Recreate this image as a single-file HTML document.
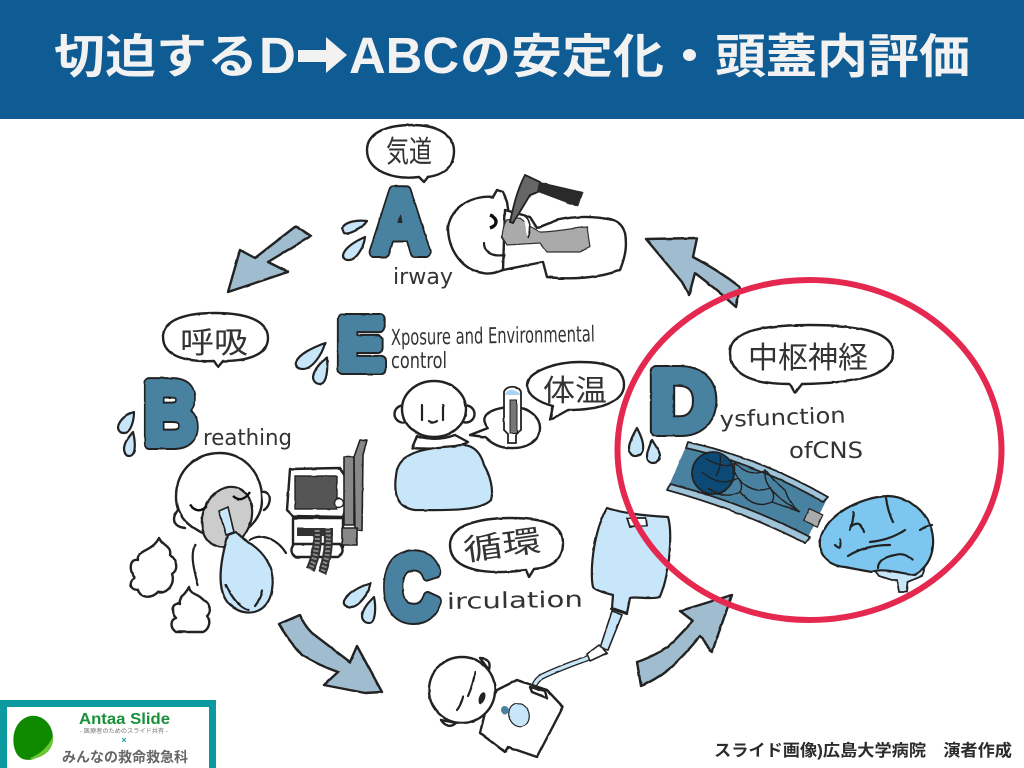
<!DOCTYPE html>
<html lang="ja"><head><meta charset="utf-8"><title>切迫するD→ABCの安定化・頭蓋内評価</title>
<style>
html,body{margin:0;padding:0;background:#fff;width:1024px;height:768px;overflow:hidden}
svg{display:block}
text{font-family:"Liberation Sans","Noto Sans CJK JP",sans-serif}
.t{font-weight:700;fill:#f2f2f2;font-size:51px}
.tj{font-weight:700;fill:#f2f2f2;font-size:47px}
.L1{font-weight:700;fill:#222;stroke:#222;stroke-width:12;stroke-linejoin:round}
.L2{font-weight:700;fill:#4a82a0;stroke:#4a82a0;stroke-width:8;stroke-linejoin:round}
.h{font-family:"DejaVu Sans","Liberation Sans",sans-serif;font-weight:400;fill:#333;font-size:22px}
.j{font-family:"Noto Sans CJK JP",sans-serif;font-weight:400;fill:#333;font-size:30px}
.o{fill:#fff;stroke:#222;stroke-width:2.4;stroke-linejoin:round;stroke-linecap:round}
.n{fill:none;stroke:#222;stroke-width:2.2;stroke-linejoin:round;stroke-linecap:round}
.b{fill:#c8e6fa;stroke:#222;stroke-width:2.2;stroke-linejoin:round;stroke-linecap:round}
.a{fill:#a0bdd0;stroke:#222;stroke-width:2.4;stroke-linejoin:round}
.g{fill:#888;stroke:#222;stroke-width:1.6;stroke-linejoin:round}
</style></head><body>
<svg width="1024" height="768" viewBox="0 0 1024 768" xmlns="http://www.w3.org/2000/svg">
<defs><filter id="w" x="-2%" y="-2%" width="104%" height="104%"><feTurbulence type="fractalNoise" baseFrequency="0.09" numOctaves="2" seed="4"/><feDisplacementMap in="SourceGraphic" scale="1.3" xChannelSelector="R" yChannelSelector="G"/><feGaussianBlur stdDeviation="0.3"/></filter></defs>
<rect width="1024" height="768" fill="#fff"/>
<rect width="1024" height="119" fill="#0f5b93"/>
<text class="tj" x="54" y="73" textLength="204" lengthAdjust="spacingAndGlyphs">切迫する</text>
<text class="t" x="259" y="73">D</text>
<path d="M298 50H326V37L347 55L326 73V62H298Z" fill="#f2f2f2"/>
<text class="t" x="349" y="73" textLength="110" lengthAdjust="spacingAndGlyphs">ABC</text>
<text class="tj" x="460" y="73" textLength="510" lengthAdjust="spacingAndGlyphs">の安定化・頭蓋内評価</text>

<g filter="url(#w)">
<!-- arrows -->
<path class="a" d="M296 226L311 236L268 262L288 272Q258 282 228 292L240 250L255 258Z"/>
<path class="a" d="M646 239L697 238L693 257Q718 270 740 287L736 307Q715 288 695 273L689 295L682 282Z"/>
<path class="a" d="M279 624L300 615Q304 625 312 633L350 662L357 646L382 692L365 693L324 685L338 672Q318 665 302 655Q288 640 279 624Z"/>
<path class="a" d="M637 662L641 686Q655 680 668 670Q685 655 700 636L712 652L732 595L680 611L693 621Q680 635 668 647Q650 658 637 662Z"/>

<!-- bubbles -->
<path class="o" d="M424 182L419 177C395 180 367 172 367 150C367 132 388 125 412 125C438 125 454 135 454 151C454 168 442 175 428 177Z"/>
<path class="o" d="M218 367L214 361C190 362 163 358 163 337C163 320 185 313 215 313C245 313 268 320 268 338C268 356 245 361 223 361Z"/>
<path class="o" d="M550 420L553 406C537 402 527 394 527 385C527 372 555 362 580 362C605 362 624 367 624 385C624 402 600 410 568 410Z"/>
<path class="o" d="M470 435L488 428C475 412 500 407 512 407C530 407 540 418 540 428C540 442 525 449 510 448C498 448 490 442 485 437Z"/>
<path class="o" d="M795 393L790 384C760 384 730 378 730 352C730 332 760 325 810 325C860 325 893 332 893 352C893 375 860 383 802 384Z"/>
<path class="o" d="M529 577L526 570C490 575 450 572 450 545C450 525 480 518 510 518C545 518 563 525 563 543C563 562 548 568 534 569Z"/>

<!-- droplets -->
<path class="b" d="M342 228C346 221 358 220 367 221C362 229 348 235 344 233ZM343 255C345 247 356 241 365 237C364 247 356 261 348 260C345 260 343 258 343 255Z"/>
<path class="b" d="M296 362C299 354 312 348 325 343C322 355 312 369 303 369C298 369 295 366 296 362ZM313 377C314 369 321 362 327 358C328 368 327 384 320 384C316 384 313 381 313 377Z"/>
<path class="b" d="M118 427C119 420 127 414 134 412C134 420 131 433 124 433C120 433 118 431 118 427ZM124 449C124 443 128 438 133 432C135 440 137 456 129 456C126 456 124 453 124 449Z"/>
<path class="b" d="M344 601C347 594 358 587 371 583C369 594 358 607 351 607C346 607 343 605 344 601ZM362 616C363 608 369 602 374 597C376 606 376 623 369 623C365 623 362 620 362 616Z"/>
<path class="b" d="M629 447C630 440 634 433 637 428C640 434 644 442 643 449C642 455 638 456 635 456C631 456 629 452 629 447ZM647 456C647 450 650 445 652 440C655 445 660 451 660 456C660 461 657 463 653 463C649 463 647 460 647 456Z"/>

<!-- letters -->
<text class="L1" x="372" y="252" font-size="88" textLength="56" lengthAdjust="spacingAndGlyphs">A</text>
<text class="L2" x="372" y="252" font-size="88" textLength="56" lengthAdjust="spacingAndGlyphs">A</text>
<text class="L1" x="144" y="444" font-size="88" textLength="53" lengthAdjust="spacingAndGlyphs">B</text>
<text class="L2" x="144" y="444" font-size="88" textLength="53" lengthAdjust="spacingAndGlyphs">B</text>
<text class="L1" x="385" y="618" font-size="90" textLength="54" lengthAdjust="spacingAndGlyphs">C</text>
<text class="L2" x="385" y="618" font-size="90" textLength="54" lengthAdjust="spacingAndGlyphs">C</text>
<text class="L1" x="650" y="431" font-size="87" textLength="65" lengthAdjust="spacingAndGlyphs">D</text>
<text class="L2" x="650" y="431" font-size="87" textLength="65" lengthAdjust="spacingAndGlyphs">D</text>
<text class="L1" x="338" y="369" font-size="72" textLength="46" lengthAdjust="spacingAndGlyphs">E</text>
<text class="L2" x="338" y="369" font-size="72" textLength="46" lengthAdjust="spacingAndGlyphs">E</text>

<!-- A patient -->
<path class="o" d="M493 197L497 190L503 192L507 202L510 222L502 237L507 245L503 270Q490 275 483 273C462 270 448 250 448 227C452 205 475 195 493 197Z"/>
<path class="o" d="M503 270L543 262L547 277C570 280 600 278 620 270C626 255 627 245 625 233Q622 223 613 220C595 216 575 216 557 220Q545 225 537 228L530 217L505 210Z"/>
<path d="M502 237C503 228 505 222 507 220L520 218L530 226L540 232C555 232 572 228 587 227L590 247L580 252L547 252L540 243L507 245Z" fill="#aaa" stroke="#333" stroke-width="1.2"/>
<path d="M525 175L540 182L538 192L530 195C524 205 518 215 513 223L510 222C513 208 517 190 525 175Z" fill="#666" stroke="#222" stroke-width="1.8"/>
<path d="M540 182L583 192L578 207L538 192Z" fill="#2b2b2b"/>
<path d="M523 215C530 218 532 228 528 238" fill="#fff" stroke="#222" stroke-width="1.6"/>
<path d="M490 215C498 218 498 225 490 228" fill="none" stroke="#111" stroke-width="3.4"/>
<path class="n" d="M484 243C484 252 492 257 504 255"/>

<!-- B patient -->
<path class="o" d="M176 497C176 470 196 453 220 453C245 453 263 475 262 500C262 520 245 535 225 538C205 537 176 525 176 497Z"/>
<path class="o" d="M178 510C170 520 175 527 185 528M262 492C272 490 272 505 264 510"/>
<path class="n" d="M195 545C190 555 194 570 198 585M250 540C262 532 278 540 286 553"/>
<ellipse cx="227" cy="517" rx="24" ry="31" fill="#ccc" stroke="#222" stroke-width="2.2" transform="rotate(22 227 517)"/>
<path d="M190 505Q198 515 207 506M233 496Q242 504 250 492" fill="none" stroke="#111" stroke-width="2.4"/>
<path class="b" d="M228 535C222 555 214 590 230 605C245 618 268 615 272 590C276 565 262 550 245 540L236 532Z"/>
<path d="M219 511L228 507L234 532L226 535Z" fill="#c8e6fa" stroke="#222" stroke-width="1.6"/>
<path class="n" d="M226 585Q235 605 248 610M262 590Q260 600 255 606"/>
<path class="o" d="M159 538C162 545 172 546 170 555C178 562 178 570 172 574C176 585 165 595 158 592C150 600 140 597 138 590C130 590 128 582 135 578C128 570 130 558 138 560C136 550 152 552 159 538Z"/>
<path class="o" d="M189 587C190 595 200 594 203 600C210 602 212 612 207 616C212 622 208 630 203 632H176C170 628 170 620 176 618C170 612 172 602 180 604C178 598 186 594 189 587Z"/>
<!-- ventilator -->
<path class="o" d="M290 469L340 468L346 478L345 510L343 517L293 516L287 510Z"/>
<rect x="295" y="476" width="42" height="33" fill="#555" stroke="#222" stroke-width="1.4"/>
<circle cx="339" cy="503" r="4.5" fill="#fff" stroke="#222" stroke-width="1.4"/>
<path class="o" d="M293 518H343V547H293Z"/>
<rect x="297" y="528" width="36" height="8" fill="#333"/>
<path class="o" d="M294 544H340Q346 552 338 557H296Q288 552 294 544Z"/>
<path class="g" d="M344 457H354V525H344Z"/>
<path class="g" d="M354 457L360 440L367 440L363 455L362 530H355Z"/>
<path class="g" d="M342 528H357V545H342Z"/>
<path d="M317 530Q319 550 310 570M328 530Q330 552 322 573" fill="none" stroke="#333" stroke-width="9"/>
<path d="M317 530Q319 550 310 570M328 530Q330 552 322 573" fill="none" stroke="#888" stroke-width="5" stroke-dasharray="2 2"/>

<!-- E patient -->
<circle cx="403" cy="414" r="8.5" class="o"/>
<circle cx="466" cy="414" r="8.5" class="o"/>
<ellipse cx="434" cy="409" rx="32" ry="28" class="o"/>
<path class="n" d="M422 405V420M443 405V420M429 421Q433 424 437 421"/>
<path class="o" d="M417 436L412 448C440 450 458 448 468 442L455 435Q436 442 417 436Z"/>
<path class="b" d="M397 470C402 452 425 448 455 446C470 442 480 450 484 465C490 475 494 490 491 500C480 512 440 510 415 510C398 508 392 495 397 470Z"/>
<!-- thermometer -->
<path d="M504 392C506 385 519 385 521 392V430L516 434L516 443H508L508 434L504 430Z" fill="#fff" stroke="#222" stroke-width="1.8"/>
<path d="M505 395C506 388 519 388 520 395Z" fill="#a8d4ef"/>
<rect x="510" y="400" width="7" height="33" fill="#777" stroke="#222" stroke-width="1"/>

<!-- vessel -->
<path d="M688 442Q760 458 828 497L805 543Q740 510 667 490Z" fill="#4a82a0"/>
<path d="M688 442Q760 458 828 497L823 502Q758 464 686 448ZM667 490L670 484Q744 503 810 537L805 543Q740 510 667 490Z" fill="#9fc3d9" stroke="#222" stroke-width="1.8" stroke-linejoin="round"/>
<circle cx="713" cy="473" r="21" fill="#0e4a75" stroke="#222" stroke-width="1.8"/>
<path d="M705 458Q725 470 735 463Q750 478 765 470Q775 482 785 490Q790 505 800 512M702 472Q720 488 738 478Q752 495 770 488Q780 500 800 512M708 488Q725 500 740 492Q755 510 772 502L800 512M735 463Q733 472 738 478Q744 485 740 492M765 470Q764 480 770 488Q776 495 772 502M720 455Q722 466 716 476" fill="none" stroke="#222" stroke-width="1.4"/>
<rect x="806" y="511" width="15" height="13" fill="#aaa" stroke="#222" stroke-width="1.2" transform="rotate(25 813 517)"/>
<!-- brain -->
<path d="M873 568L879 576L892 580L897 580L899 592L907 592L908 582L922 576L925 566L915 572Z" fill="#c8e6fa" stroke="#222" stroke-width="1.8"/>
<path d="M820 540C825 515 860 497 888 496C915 497 935 520 933 545C932 560 925 568 915 575C895 572 880 568 872 572C860 570 850 568 845 567C830 566 818 556 820 540Z" fill="#7cc6f0" stroke="#222" stroke-width="2.2"/>
<path class="n" d="M853 512Q854 520 850 530M886 498Q888 512 893 522M851 527C858 520 862 525 864 532M870 542Q890 540 905 530M835 545Q842 552 840 540M848 556Q865 545 890 545M878 568Q878 558 895 555Q905 552 912 560M920 530Q928 525 932 525" stroke-width="1.6"/>

<!-- IV bag -->
<path class="b" d="M607 508C625 514 650 516 668 517C672 530 671 570 660 597C650 600 635 596 630 598L627 613L612 608L613 595C605 593 595 590 593 587C590 575 592 535 607 508Z"/>
<path d="M627 518H646L647 526L630 527Z" fill="#fff" stroke="#222" stroke-width="1.8"/>
<path class="n" d="M611 609L627 614" stroke-width="3"/>
<path d="M612 611L622 615L608 650L600 648Z" fill="#c8e6fa" stroke="#222" stroke-width="1.6"/>
<path d="M587 654L599 645L607 653L590 661Z" fill="#fff" stroke="#222" stroke-width="1.6"/>
<path d="M588 658Q560 668 543 676Q535 680 533 690" fill="none" stroke="#222" stroke-width="6"/>
<path d="M588 658Q560 668 543 676Q535 680 533 690" fill="none" stroke="#c8e6fa" stroke-width="3.4"/>
<!-- C patient -->
<path class="o" d="M517 680L547 690L563 707L537 757L508 747L505 752L480 733L485 713L497 690Z"/>
<path class="o" d="M530 687L545 691L547 698L532 692Z"/>
<path class="o" d="M480 658Q492 658 489 670ZM441 720Q448 730 456 723Z"/>
<circle cx="462" cy="690" r="33" class="o"/>
<path class="n" d="M475 672Q473 685 468 696M463 697Q461 705 457 710" stroke-width="1.8"/>
<ellipse cx="482" cy="698" rx="3" ry="6" fill="#222" transform="rotate(20 482 698)"/>
<ellipse cx="519" cy="715" rx="10" ry="12" fill="#c8e6fa" stroke="#222" stroke-width="1.2" transform="rotate(-20 519 715)"/>
<circle cx="505" cy="710" r="4" fill="#4a82a0"/>
</g>

<!-- handwritten -->
<text class="j" x="386" y="162" font-size="24" textLength="46" lengthAdjust="spacingAndGlyphs">気道</text>
<text class="j" x="180" y="353" font-size="33" textLength="68" lengthAdjust="spacingAndGlyphs">呼吸</text>
<text class="j" x="543" y="401" font-size="32" textLength="64" lengthAdjust="spacingAndGlyphs">体温</text>
<text class="j" x="748" y="368" textLength="120" lengthAdjust="spacingAndGlyphs">中枢神経</text>
<text class="j" x="465" y="561" font-size="36" transform="rotate(-8 465 561)" textLength="78" lengthAdjust="spacingAndGlyphs">循環</text>
<text class="h" x="393" y="284" textLength="60" lengthAdjust="spacingAndGlyphs">irway</text>
<text class="h" x="203" y="445" textLength="89" lengthAdjust="spacingAndGlyphs">reathing</text>
<text class="h" x="391" y="345" font-size="19" textLength="204" lengthAdjust="spacingAndGlyphs" transform="rotate(-1 391 345)">Xposure and Environmental</text>
<text class="h" x="391" y="368" font-size="18" textLength="56" lengthAdjust="spacingAndGlyphs">control</text>
<text class="h" x="720" y="427" font-size="26" textLength="126" lengthAdjust="spacingAndGlyphs" transform="rotate(-2 720 427)">ysfunction</text>
<text class="h" x="789" y="458" font-size="30" textLength="74" lengthAdjust="spacingAndGlyphs">ofCNS</text>
<text class="h" x="447" y="609" font-size="30" textLength="136" lengthAdjust="spacingAndGlyphs" transform="rotate(-1 447 609)">irculation</text>

<!-- red circle -->
<ellipse cx="809.5" cy="450" rx="192" ry="170" fill="none" stroke="#e5284f" stroke-width="6"/>

<!-- footer -->
<text x="714" y="756" font-size="16.5" font-weight="700" fill="#2b2b2b" textLength="298" lengthAdjust="spacingAndGlyphs">スライド画像)広島大学病院　演者作成</text>
<rect x="0" y="700" width="216" height="68" fill="#0a9aa0"/>
<rect x="7" y="707" width="202" height="61" fill="#fff"/>
<path d="M30 716C42 714 53 724 53 738C53 750 44 756 36 758C28 762 18 760 15 750C11 738 14 720 30 716Z" fill="#0f8a00"/>
<path d="M53 736C53 750 44 756 36 758Q32 760 30 758Q46 752 53 736Z" fill="#6cc830"/>
<text x="79" y="724" font-size="16" font-weight="700" fill="#18913a" textLength="91" lengthAdjust="spacingAndGlyphs">Antaa Slide</text>
<text x="124" y="733" font-size="6.2" fill="#777" text-anchor="middle">- 医療者のためのスライド共有 -</text>
<text x="124" y="743" font-size="9" font-weight="700" fill="#1a9aa0" text-anchor="middle">×</text>
<text x="62" y="762" font-size="14" font-weight="700" fill="#666" textLength="126" lengthAdjust="spacingAndGlyphs">みんなの救命救急科</text>
</svg>
</body></html>
